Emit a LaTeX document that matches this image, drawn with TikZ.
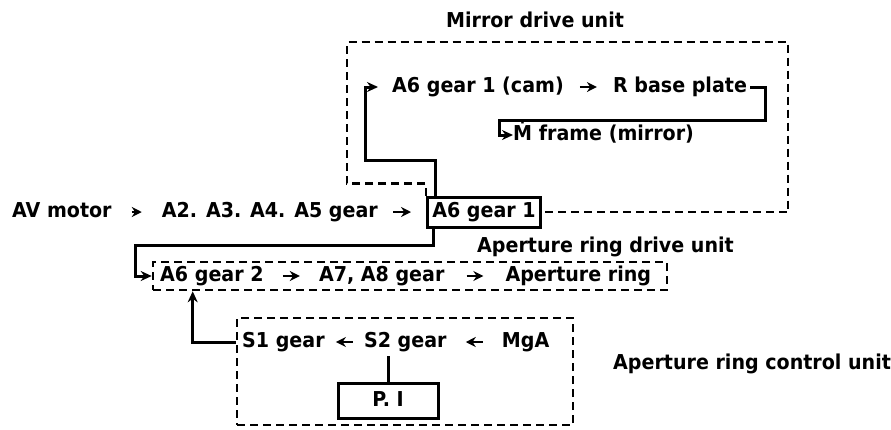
\documentclass[tikz,border=0pt]{standalone}
\usepackage{fontspec}
\setmainfont{DejaVu Sans}[FakeStretch=0.93]
\usetikzlibrary{arrows.meta, positioning}

\begin{document}
\begin{tikzpicture}[
    x=1pt, y=1pt,
    font=\fontsize{20.5}{24}\selectfont\bfseries,
    txt/.style={inner sep=0pt, text height=13pt, text depth=2pt},
    partbox/.style={rectangle, draw, line width=3pt, inner sep=0pt, text height=13pt, text depth=2pt},
    unitbox/.style={rectangle, draw, line width=2.6pt, dash pattern=on 8pt off 5pt, inner sep=0pt},
    unitline/.style={line width=2.6pt, dash pattern=on 8pt off 5pt},
    feed/.style={-{Stealth[length=11pt, width=10pt]}, line width=3pt},
    link/.style={-{Stealth[length=10pt, width=10pt]}, line width=2.6pt, shorten <=#1, shorten >=#1}
]
\useasboundingbox (0,0) rectangle (891,-429);

% main drive chain
\node[txt, anchor=west] (motor) at (12,-212) {AV motor};
\node[partbox, minimum width=113pt, minimum height=30pt, anchor=west] (a6one) at (426,-212) {A6 gear 1};
\node[txt, left=48pt of a6one] (gears) {A2. A3. A4. A5 gear};

% mirror drive unit
\node[txt] (mirrorlbl) at (535,-22) {Mirror drive unit};
\node[txt, anchor=west] (cam) at (392,-87) {A6 gear 1 (cam)};
\node[txt, right=49pt of cam] (rbase) {R base plate};
\node[txt, anchor=west] (mframe) at (513,-135) {Ṁ frame (mirror)};
\coordinate (mtl) at (347,-42);
\coordinate (mbr) at (788,-212);
\coordinate (camturn) at (365,-160);
\coordinate (mturn) at (765,-120);
\coordinate (mdrop) at (499,-120);

% aperture ring drive unit
\node[txt, anchor=west] (drivelbl) at (477,-247) {Aperture ring drive unit};
\node[unitbox, minimum width=514pt, minimum height=28pt] (ringunit) at (410,-276) {};
\node[txt, anchor=west] (g2) at (160,-276) {A6 gear 2};
\node[txt, right=55pt of g2] (a78) {A7, A8 gear};
\node[txt, left=17pt of ringunit.east] (ring) {Aperture ring};
\coordinate (ringturn) at (135,-245);

% aperture ring control unit
\node[unitbox, minimum width=336pt, minimum height=107pt] (ctrlunit) at (405,-371.5) {};
\node[txt, anchor=west] (s1) at (242,-342) {S1 gear};
\node[txt, right=39pt of s1] (s2) {S2 gear};
\node[txt, right=55pt of s2] (mga) {MgA};
\node[partbox, minimum width=100pt, minimum height=35pt] (pi) at (388,-400.5) {P. I};
\node[txt, anchor=west] (ctrllbl) at (613,-364) {Aperture ring control unit};

% frames
\draw[unitline] (a6one.north west) -- ++(0,12) -| (mtl) -| (mbr) -- (a6one.east);

% flow arrows
\draw[link=20pt] (motor) -- (gears);
\draw[link=15pt] (gears) -- (a6one);
\draw[link=16pt] (cam) -- (rbase);
\draw[link=19pt] (g2) -- (a78);
\draw[link=22pt] (a78) -- (ring);
\draw[link=11pt] (s2) -- (s1);
\draw[link=19pt] (mga) -- (s2);

% connectors
\draw[feed, shorten >=14pt] ([xshift=9pt]a6one.north west) |- (camturn) |- (cam.west);
\draw[feed] ([xshift=3pt]rbase.east) -| (mturn) -- (mdrop) |- (mframe.west);
\draw[feed] ([xshift=7pt]a6one.south west) |- (ringturn) |- (ringunit.west);
\draw[feed] (s1 -| ctrlunit.west) -| ([xshift=41pt]ringunit.south west);
\draw[line width=3pt] (pi) -- ([yshift=-6pt]pi.north |- s2.south);

\end{tikzpicture}
\end{document}
